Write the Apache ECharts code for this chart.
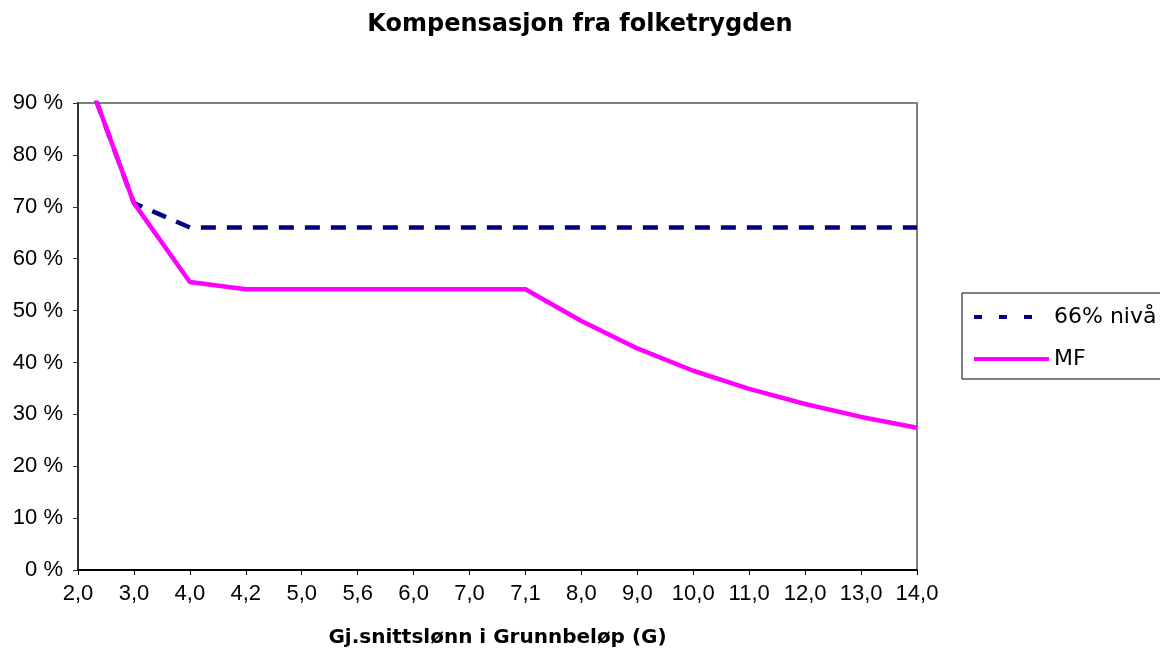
<!DOCTYPE html>
<html>
<head>
<meta charset="utf-8">
<script src="https://cdn.jsdelivr.net/npm/echarts@6/dist/echarts.min.js"></script>
<style>
  html, body { margin: 0; padding: 0; background: #ffffff; }
  #chart { width: 1160px; height: 654px; }
</style>
</head>
<body>
<div id="chart"></div>
<script>
// Average wage expressed in multiples of the base amount (G)
const categories = ['2,0', '3,0', '4,0', '4,2', '5,0', '5,6', '6,0', '7,0', '7,1', '8,0', '9,0', '10,0', '11,0', '12,0', '13,0', '14,0'];

// Compensation level in percent
const level66 = [100, 70.7, 66, 66, 66, 66, 66, 66, 66, 66, 66, 66, 66, 66, 66, 66];
const mf = [100, 70.7, 55.5, 54.1, 54.1, 54.1, 54.1, 54.1, 54.1, 48.0, 42.7, 38.4, 34.9, 32.0, 29.5, 27.4];

const seriesNames = ['66% nivå', 'MF'];

const chart = echarts.init(document.getElementById('chart'), null, { renderer: 'canvas' });

chart.setOption({
  animation: false,
  backgroundColor: '#ffffff',
  title: {
    text: 'Kompensasjon fra folketrygden',
    left: 'center',
    top: 8,
    textStyle: {
      fontFamily: 'DejaVu Sans',
      fontWeight: 'bold',
      fontSize: 24,
      color: '#000000'
    }
  },
  legend: {
    orient: 'vertical',
    left: 962,
    top: 293,
    padding: [12, 10, 8, 10],
    itemWidth: 75,
    itemHeight: 14,
    itemGap: 18,
    borderColor: '#000000',
    borderWidth: 1,
    // line-only keys: hide the marker drawn on top of the line sample
    itemStyle: { opacity: 0 },
    textStyle: {
      fontFamily: 'DejaVu Sans',
      fontSize: 22,
      color: '#000000',
      lineHeight: 24
    },
    data: [
      { name: seriesNames[0], lineStyle: { type: [8, 17], width: 4 } },
      { name: seriesNames[1], lineStyle: { width: 4 } }
    ]
  },
  grid: {
    left: 78,
    right: 243,
    top: 103,
    bottom: 84,
    show: true,
    borderColor: '#808080',
    borderWidth: 2,
    backgroundColor: '#ffffff'
  },
  xAxis: {
    type: 'category',
    data: categories,
    boundaryGap: false,
    name: 'Gj.snittslønn i Grunnbeløp (G)',
    nameLocation: 'middle',
    nameGap: 58,
    nameTextStyle: {
      fontFamily: 'DejaVu Sans',
      fontWeight: 'bold',
      fontSize: 20,
      color: '#000000'
    },
    axisLine: { show: true, lineStyle: { color: '#000000', width: 2 } },
    axisTick: { show: true, length: 5, alignWithLabel: true, lineStyle: { color: '#000000', width: 1 } },
    axisLabel: {
      margin: 13,
      fontFamily: 'Liberation Sans',
      fontSize: 22,
      color: '#000000'
    },
    splitLine: { show: false }
  },
  yAxis: {
    type: 'value',
    min: 0,
    max: 90,
    interval: 10,
    axisLine: { show: true, lineStyle: { color: '#333333', width: 2 } },
    axisTick: { show: true, length: 5, lineStyle: { color: '#333333', width: 1 } },
    axisLabel: {
      margin: 15,
      fontFamily: 'Liberation Sans',
      fontSize: 22,
      color: '#000000',
      formatter: function (v) { return v + ' %'; }
    },
    splitLine: { show: false }
  },
  series: [
    {
      name: seriesNames[0],
      type: 'line',
      data: level66,
      symbol: 'none',
      clip: true,
      color: '#000080',
      lineStyle: { color: '#000080', width: 4.5, type: [15, 11] },
      z: 2
    },
    {
      name: seriesNames[1],
      type: 'line',
      data: mf,
      symbol: 'none',
      clip: true,
      color: '#ff00ff',
      lineStyle: { color: '#ff00ff', width: 4.5 },
      z: 3
    }
  ]
});
</script>
</body>
</html>
